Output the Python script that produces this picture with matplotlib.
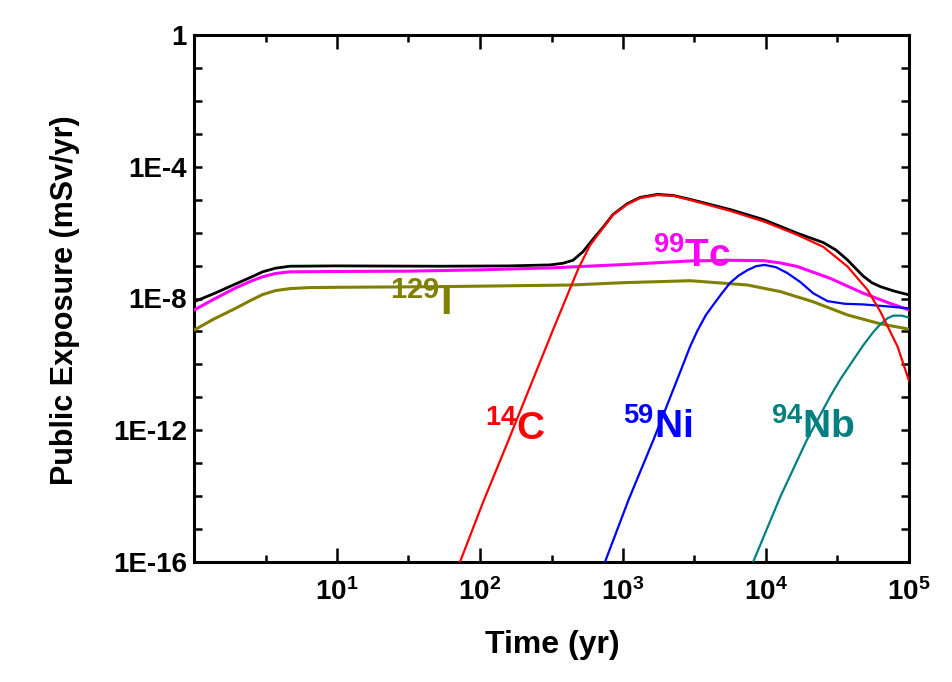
import numpy as np
import matplotlib
matplotlib.use("Agg")
import matplotlib.pyplot as plt
from matplotlib.ticker import FixedLocator, FuncFormatter, NullFormatter

plt.rcParams['font.family'] = ['Liberation Sans', 'DejaVu Sans']
plt.rcParams['mathtext.fontset'] = 'custom'
plt.rcParams['mathtext.rm'] = 'Liberation Sans:bold'
plt.rcParams['mathtext.it'] = 'Liberation Sans:bold'
plt.rcParams['mathtext.bf'] = 'Liberation Sans:bold'
plt.rcParams['mathtext.default'] = 'rm'

# ---- data (log10 of time in yr, log10 of exposure in mSv/yr) ----
total_logt = [0, 0.14, 0.29, 0.40, 0.48, 0.57, 0.67, 1.0, 1.72, 2.2, 2.49, 2.58, 2.65, 2.72,
              2.79, 2.86, 2.93, 3.03, 3.12, 3.24, 3.35, 3.47, 3.75, 3.98, 4.22, 4.40, 4.49,
              4.57, 4.63, 4.68, 4.74, 4.80, 4.90, 5.0]
total_logv = [-8.10, -7.85, -7.56, -7.35, -7.19, -7.08, -7.02, -7.01, -7.02, -7.01, -6.98, -6.93,
              -6.84, -6.58, -6.20, -5.84, -5.45, -5.12, -4.93, -4.84, -4.87, -4.99, -5.30, -5.60,
              -6.02, -6.30, -6.53, -6.83, -7.10, -7.32, -7.52, -7.64, -7.78, -7.89]

c14_logt = [1.86, 2.02, 2.19, 2.35, 2.51, 2.64, 2.69, 2.77, 2.86, 2.93, 3.03, 3.12, 3.24, 3.35,
            3.47, 3.75, 3.99, 4.22, 4.40, 4.57, 4.71, 4.80, 4.92, 5.0]
c14_logv = [-16.0, -14.2, -12.4, -10.68, -8.96, -7.59, -7.07, -6.38, -5.86, -5.46, -5.14, -4.95,
            -4.86, -4.88, -5.01, -5.34, -5.67, -6.07, -6.43, -7.03, -7.74, -8.40, -9.46, -10.50]

tc99_logt = [0, 0.14, 0.29, 0.40, 0.48, 0.57, 0.67, 1.0, 1.5, 2.0, 2.5, 3.0, 3.47, 3.75, 3.98,
             4.10, 4.22, 4.45, 4.68, 4.85, 5.0]
tc99_logv = [-8.35, -8.02, -7.68, -7.47, -7.34, -7.24, -7.19, -7.18, -7.17, -7.13, -7.07, -6.97,
             -6.86, -6.84, -6.85, -6.92, -7.03, -7.39, -7.84, -8.12, -8.35]

i129_logt = [0, 0.14, 0.29, 0.40, 0.48, 0.57, 0.67, 0.80, 1.0, 1.72, 2.64, 3.0, 3.47, 3.87, 4.10,
             4.33, 4.57, 4.80, 5.0]
i129_logv = [-8.96, -8.62, -8.30, -8.05, -7.88, -7.76, -7.70, -7.67, -7.66, -7.64, -7.59, -7.52,
             -7.46, -7.59, -7.79, -8.10, -8.50, -8.77, -8.93]

ni59_logt = [2.874, 3.04, 3.212, 3.40, 3.47, 3.52, 3.58, 3.63, 3.69, 3.75, 3.81, 3.87, 3.93, 3.99,
             4.07, 4.15, 4.24, 4.33, 4.43, 4.55, 4.68, 4.85, 5.0]
ni59_logv = [-16.0, -14.1, -12.30, -10.23, -9.45, -8.98, -8.50, -8.20, -7.85, -7.52, -7.30, -7.14,
             -7.02, -6.98, -7.05, -7.23, -7.50, -7.84, -8.08, -8.16, -8.18, -8.24, -8.30]

nb94_logt = [3.91, 4.10, 4.285, 4.448, 4.52, 4.61, 4.68, 4.75, 4.80, 4.85, 4.89, 4.95, 5.0]
nb94_logv = [-16.0, -14.02, -12.30, -10.98, -10.45, -9.87, -9.42, -9.02, -8.78, -8.60, -8.52,
             -8.52, -8.58]

ytick_exps = list(range(-16, 1))
ylabel_map = {0: "1", -4: "1E-4", -8: "1E-8", -12: "1E-12", -16: "1E-16"}
xtick_exps = [1, 2, 3, 4, 5]

labels = [
    (r"$^{14}\mathrm{C}$", 2.035, -12.3, "#FF0000", 28),
    (r"$^{59}\mathrm{Ni}$", 3.0, -12.23, "#0000FF", 28),
    (r"$^{94}\mathrm{Nb}$", 4.035, -12.23, "#008080", 28),
    (r"$^{99}\mathrm{Tc}$", 3.21, -7.04, "#FF00FF", 28),
    (r"$^{129}\mathrm{I}$", 1.37, -8.5, "#808000", 30),
]

fig = plt.figure(figsize=(9.53, 6.82), dpi=100)
ax = fig.add_axes([194/953, 1-562/682, 715/953, 527/682])

def P(lt, lv):
    return np.power(10.0, lt), np.power(10.0, lv)

kw = dict(solid_joinstyle="round", solid_capstyle="round")
ax.plot(*P(i129_logt, i129_logv), color="#808000", lw=2.2, zorder=3, **kw)
ax.plot(*P(tc99_logt, tc99_logv), color="#FF00FF", lw=2.2, zorder=3, **kw)
ax.plot(*P(nb94_logt, nb94_logv), color="#008080", lw=1.6, zorder=3, **kw)
ax.plot(*P(ni59_logt, ni59_logv), color="#0000FF", lw=1.6, zorder=3, **kw)
ax.plot(*P(total_logt, total_logv), color="black", lw=2.0, zorder=2, **kw)
ax.plot(*P(c14_logt, c14_logv), color="#FF0000", lw=1.6, zorder=4, **kw)

ax.set_xscale("log")
ax.set_yscale("log")
ax.set_xlim(1, 1e5)
ax.set_ylim(1e-16, 1)

ax.xaxis.set_major_locator(FixedLocator([10.0**e for e in xtick_exps]))
ax.xaxis.set_minor_locator(FixedLocator([10.0**(e + 0.5) for e in range(0, 5)]))
ax.xaxis.set_major_formatter(FuncFormatter(lambda v, p: r"$\mathrm{10^{%d}}$" % round(np.log10(v))))
ax.xaxis.set_minor_formatter(NullFormatter())

ax.yaxis.set_major_locator(FixedLocator([10.0**e for e in ytick_exps]))
ax.yaxis.set_minor_locator(FixedLocator([]))
ax.yaxis.set_major_formatter(FuncFormatter(lambda v, p: ylabel_map.get(int(round(np.log10(v))), "")))

for s in ax.spines.values():
    s.set_linewidth(2.2)
ax.tick_params(which="both", direction="in", top=True, right=True, width=1.8)
ax.tick_params(axis="x", which="major", length=10, labelsize=20, pad=12)
ax.tick_params(axis="x", which="minor", length=5)
ax.tick_params(axis="y", which="major", length=6, labelsize=20, pad=5)
for t in ax.get_yticklabels():
    t.set_fontweight("bold")

ax.set_xlabel("Time (yr)", fontsize=23, fontweight="bold")
ax.set_ylabel("Public Exposure (mSv/yr)", fontsize=22, fontweight="bold")
ax.xaxis.set_label_coords((552-194)/715, (562-645)/527)
ax.yaxis.set_label_coords((65-194)/715, (562-300)/527)
ax.xaxis.label.set_va("center")
ax.yaxis.label.set_va("center")

for txt, lt, lv, col, fs in labels:
    ax.text(10**lt, 10**lv, txt, color=col, fontsize=fs, ha="left", va="baseline", zorder=5)

fig.savefig("out.png", dpi=100)
